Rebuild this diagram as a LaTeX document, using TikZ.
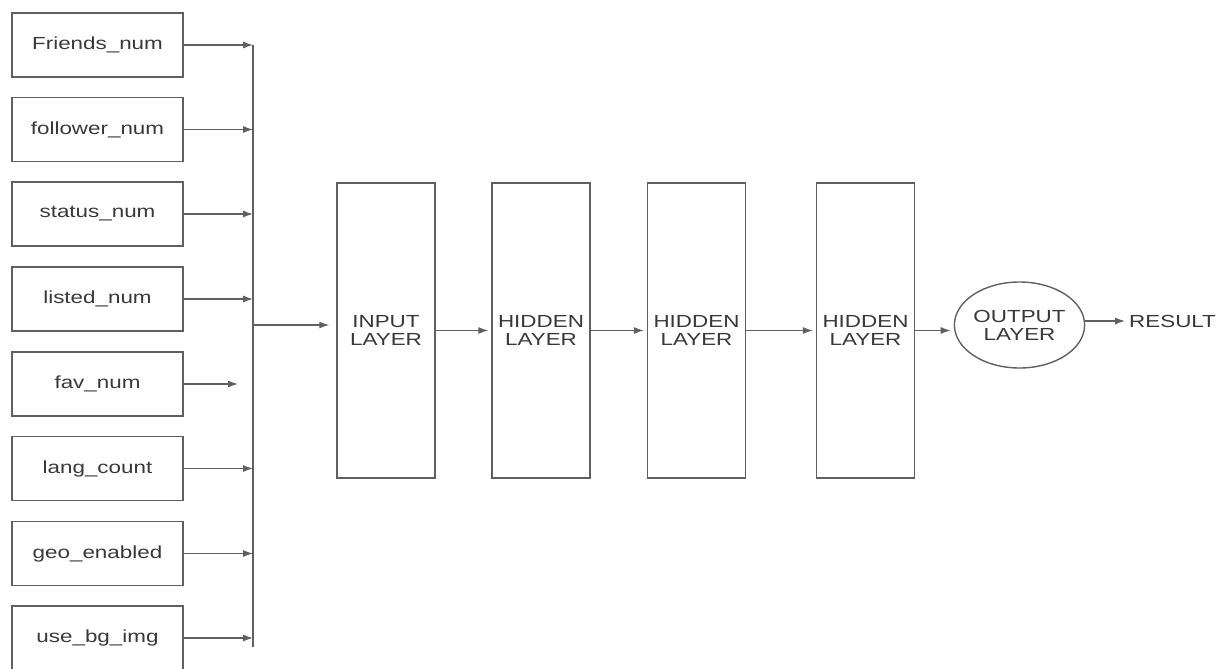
\documentclass[tikz,border=0pt]{standalone}
\usepackage{fontspec}
\usepackage{xcolor}
\usetikzlibrary{arrows.meta,shapes.geometric}
\newfontfamily\nnfont[FakeStretch=1.28]{Liberation Sans}
\definecolor{nnline}{HTML}{606060}
\definecolor{nntext}{HTML}{383838}

\tikzset{
  featbox/.style={draw=nnline, line width=1.4pt, minimum width=171pt, minimum height=64pt, inner sep=0pt, text=nntext, font=\nnfont\fontsize{17.5}{18}\selectfont},
  layerbox/.style={draw=nnline, line width=1.4pt, minimum width=98pt, minimum height=295pt, inner sep=0pt, align=center, text=nntext, font=\nnfont\fontsize{17.5}{18}\selectfont},
  outnode/.style={ellipse, draw=nnline, line width=1.4pt, minimum width=127pt, minimum height=86pt, inner sep=0pt, align=center, text=nntext, font=\nnfont\fontsize{17.5}{18}\selectfont},
  feed/.style={draw=nnline, line width=1.2pt, -{Latex[length=10pt,width=7pt]}},
}

\begin{document}
\begin{tikzpicture}[x=1pt, y=-1pt]
  \useasboundingbox (0,0) rectangle (1218,669);
  % input features
  \node[featbox] (friends) at (97.5,45) {Friends\_num};
  \node[featbox] (follower) at (97.5,129.5) {follower\_num};
  \node[featbox] (status) at (97.5,214) {status\_num};
  \node[featbox] (listed) at (97.5,299) {listed\_num};
  \node[featbox] (fav) at (97.5,384) {fav\_num};
  \node[featbox] (lang) at (97.5,468.5) {lang\_count};
  \node[featbox] (geo) at (97.5,553.5) {geo\_enabled};
  \node[featbox] (usebg) at (97.5,638) {use\_bg\_img};
  % collecting line
  \coordinate (bustop) at (253,45);
  \coordinate (busbot) at (253,647);
  \coordinate (busjoin) at (253,325);
  \draw[draw=nnline, line width=1.4pt] (bustop) -- (busbot);
  \draw[feed] (friends.east) -- (friends.east -| bustop);
  \draw[feed] (follower.east) -- (follower.east -| bustop);
  \draw[feed] (status.east) -- (status.east -| bustop);
  \draw[feed] (listed.east) -- (listed.east -| bustop);
  \draw[feed, shorten >=15pt] (fav.east) -- (fav.east -| bustop);
  \draw[feed] (lang.east) -- (lang.east -| bustop);
  \draw[feed] (geo.east) -- (geo.east -| bustop);
  \draw[feed] (usebg.east) -- (usebg.east -| bustop);
  % layers
  \node[layerbox] (inp) at (386,330.5) {INPUT\\LAYER};
  \node[layerbox] (hid1) at (541,330.5) {HIDDEN\\LAYER};
  \node[layerbox] (hid2) at (696.5,330.5) {HIDDEN\\LAYER};
  \node[layerbox] (hid3) at (865.5,330.5) {HIDDEN\\LAYER};
  \node[outnode] (out) at (1019.5,325) {OUTPUT\\LAYER};
  \node[anchor=west, inner sep=0pt, text=nntext, font=\nnfont\fontsize{17.5}{18}\selectfont] (result) at (1129,321) {RESULT};
  \draw[feed, shorten >=7pt] (busjoin) -- (busjoin -| inp.west);
  \draw[feed, shorten >=3pt] (inp.east) -- (hid1.west);
  \draw[feed, shorten >=3pt] (hid1.east) -- (hid2.west);
  \draw[feed, shorten >=3pt] (hid2.east) -- (hid3.west);
  \draw[feed, shorten >=3pt] (hid3.east) -- (hid3.east -| out.west);
  \draw[feed, shorten >=4pt] (out.east |- result.west) -- (result.west);
\end{tikzpicture}
\end{document}
